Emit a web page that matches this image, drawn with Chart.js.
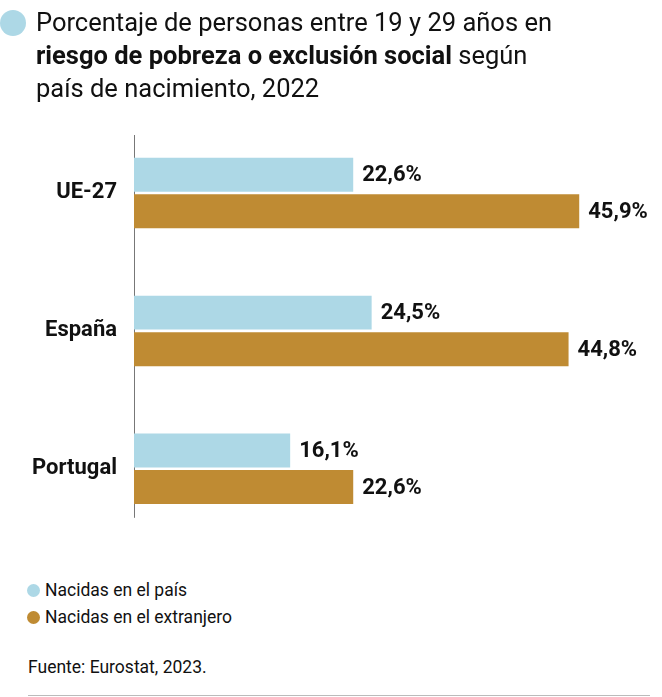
<!DOCTYPE html>
<html>
<head>
<meta charset="utf-8">
<script src="https://cdn.jsdelivr.net/npm/chart.js@4"></script>
<style>
  body { margin: 0; background: #fff; font-family: Roboto, "Liberation Sans", sans-serif; color: #111; }
  #wrap { position: relative; width: 662px; height: 697px; overflow: hidden; }
  #title { position: absolute; left: 36px; top: 6px; width: 620px; font-size: 25.5px; line-height: 33px; white-space: nowrap; }
  #title b { font-weight: 700; }
  #dot { position: absolute; left: 0; top: 10px; width: 26px; height: 26px; border-radius: 50%; background: #add8e6; }
  #chartBox { position: absolute; left: 0; top: 0; width: 662px; height: 568px; }
  #legend { position: absolute; left: 27px; top: 577px; font-size: 17.5px; line-height: 27px; }
  #legend span.sw { display: inline-block; width: 13px; height: 13px; border-radius: 50%; margin-right: 5px; vertical-align: -1px; }
  #source { position: absolute; left: 28px; top: 657px; font-size: 17.5px; }
  #rule { position: absolute; left: 28px; right: 12px; top: 695px; border-top: 1px solid #bbb; }
</style>
</head>
<body>
<div id="wrap">
  <div id="chartBox"><canvas id="chart"></canvas></div>
  <div id="dot"></div>
  <div id="title">Porcentaje de personas entre 19 y 29 años en<br><b>riesgo de pobreza o exclusión social</b> según<br>país de nacimiento, 2022</div>
  <div id="legend"></div>
  <div id="source">Fuente: Eurostat, 2023.</div>
  <div id="rule"></div>
</div>
<script>
// Data
const countries = ['UE-27', 'España', 'Portugal'];
const seriesNames = ['Nacidas en el país', 'Nacidas en el extranjero'];
const bornHere = [22.6, 24.5, 16.1];
const bornAbroad = [45.9, 44.8, 22.6];
const seriesColors = ['#add8e6', '#bf8b33'];

const labelFont = 'Roboto, "Liberation Sans", sans-serif';

// HTML legend
const legendEl = document.getElementById('legend');
seriesNames.forEach((name, i) => {
    const row = document.createElement('div');
    row.innerHTML = `<span class="sw" style="background:${seriesColors[i]}"></span>${name}`;
    legendEl.appendChild(row);
});

// axis line drawn a bit shorter than the category range, like the original
const axisLine = {
    id: 'axisLine',
    beforeDatasetsDraw(chart) {
        const { ctx, chartArea } = chart;
        ctx.save();
        ctx.strokeStyle = '#777';
        ctx.lineWidth = 1;
        ctx.beginPath();
        ctx.moveTo(chartArea.left + 0.5, chartArea.top + 11);
        ctx.lineTo(chartArea.left + 0.5, chartArea.bottom - 20);
        ctx.stroke();
        ctx.restore();
    }
};

// value labels at the end of every bar
const valueLabels = {
    id: 'valueLabels',
    afterDatasetsDraw(chart) {
        const { ctx } = chart;
        ctx.save();
        ctx.font = 'bold 22px ' + labelFont;
        ctx.fillStyle = '#111';
        ctx.textBaseline = 'middle';
        ctx.textAlign = 'left';
        chart.data.datasets.forEach((ds, di) => {
            chart.getDatasetMeta(di).data.forEach((bar, i) => {
                const txt = ds.data[i].toFixed(1).replace('.', ',') + '%';
                ctx.fillText(txt, bar.x + 9, bar.y + 1);
            });
        });
        ctx.restore();
    }
};

const chart = new Chart(document.getElementById('chart'), {
    type: 'bar',
    data: {
        labels: countries,
        datasets: [
            { label: seriesNames[0], data: bornHere, backgroundColor: seriesColors[0] },
            { label: seriesNames[1], data: bornAbroad, backgroundColor: seriesColors[1] }
        ]
    },
    options: {
        indexAxis: 'y',
        responsive: true,
        maintainAspectRatio: false,
        animation: false,
        categoryPercentage: 0.53,
        barPercentage: 0.93,
        layout: { padding: { top: 124, bottom: 22, right: 43, left: 0 } },
        plugins: {
            legend: { display: false },
            tooltip: { enabled: false }
        },
        scales: {
            x: {
                min: 0,
                max: 50,
                display: false
            },
            y: {
                grid: { display: false, drawTicks: false },
                border: { display: false },
                ticks: {
                    color: '#111',
                    padding: 17,
                    font: { family: labelFont, size: 22, weight: 'bold' }
                },
                afterFit(scale) { scale.width = 134; }
            }
        }
    },
    plugins: [axisLine, valueLabels]
});
</script>
</body>
</html>
